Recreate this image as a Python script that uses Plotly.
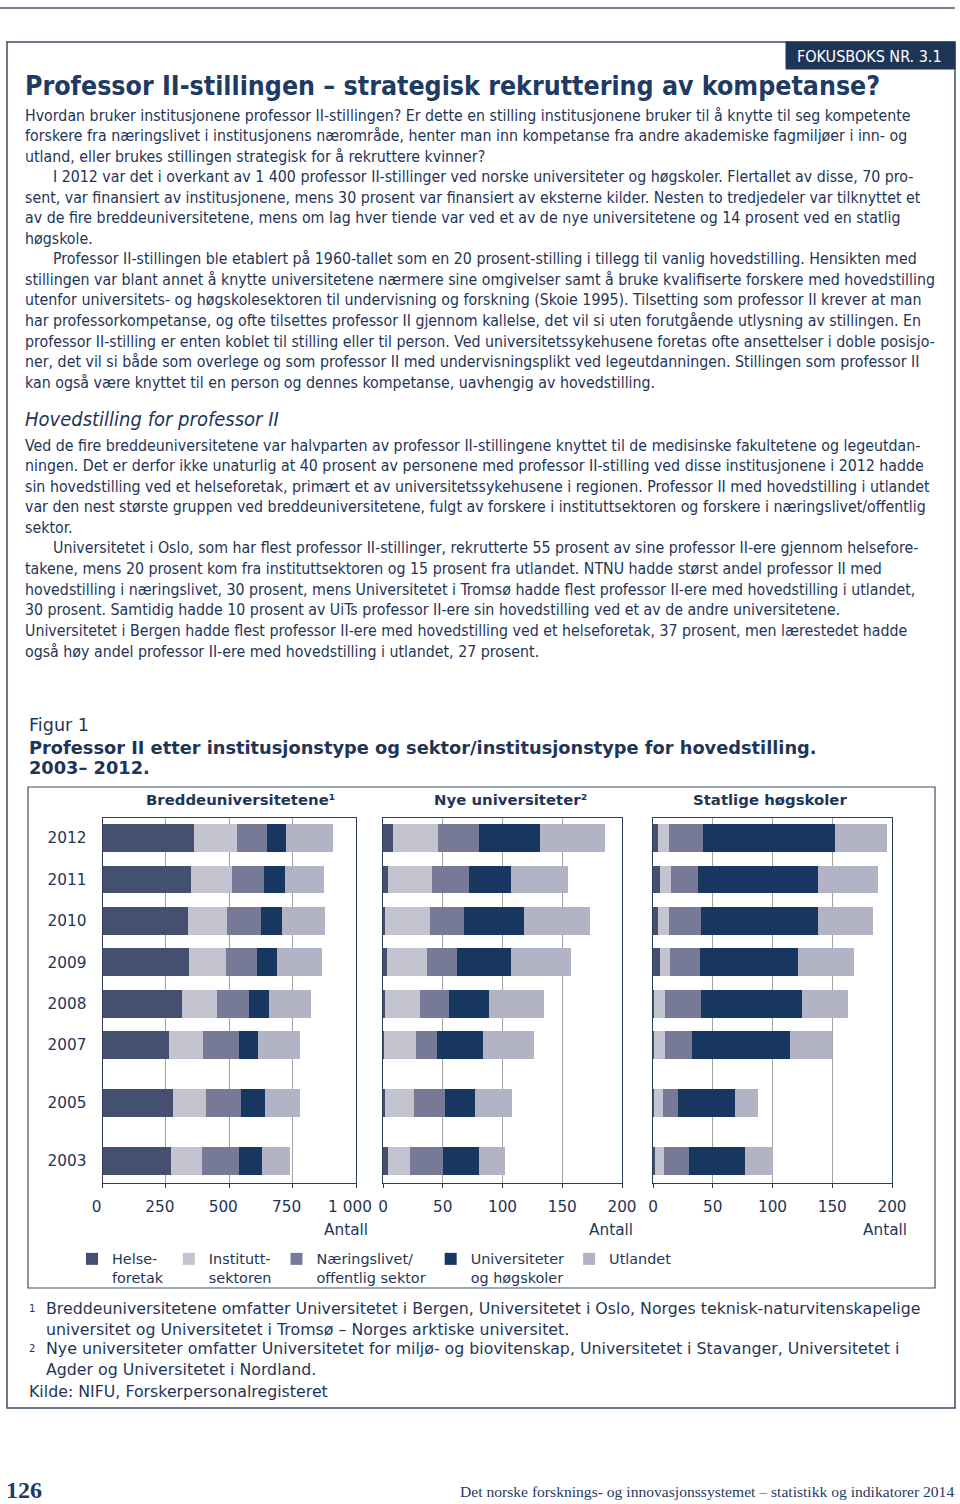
import plotly.graph_objects as go

W, H = 960, 1504

# ---------------- DATA ----------------
years = ["2012", "2011", "2010", "2009", "2008", "2007", "2005", "2003"]
sectors = ["Helse-<br>foretak", "Institutt-<br>sektoren", "Næringslivet/<br>offentlig sektor",
           "Universiteter<br>og høgskoler", "Utlandet"]

bredde_helse = [359, 347, 334, 338, 310, 262, 276, 270]
bredde_inst = [169, 162, 155, 148, 140, 132, 131, 119]
bredde_naer = [117, 126, 135, 120, 124, 144, 139, 147]
bredde_univ = [75, 82, 84, 82, 81, 75, 94, 90]
bredde_utl = [189, 153, 166, 174, 166, 165, 136, 111]

nye_helse = [8, 4, 2, 3, 2, 1, 2, 4]
nye_inst = [38, 37, 37, 34, 29, 27, 24, 19]
nye_naer = [34, 31, 29, 25, 24, 17, 26, 27]
nye_univ = [51, 35, 50, 45, 34, 39, 25, 30]
nye_utl = [55, 48, 55, 50, 46, 42, 31, 22]

hs_helse = [4, 6, 4, 6, 1, 1, 1, 2]
hs_inst = [9, 9, 9, 8, 9, 9, 7, 7]
hs_naer = [29, 23, 27, 25, 30, 23, 13, 21]
hs_univ = [110, 100, 98, 82, 85, 82, 48, 47]
hs_utl = [44, 50, 46, 47, 38, 35, 19, 23]

panel_titles = ["Breddeuniversitetene¹", "Nye universiteter²", "Statlige høgskoler"]
x1_ticks = [0, 250, 500, 750, 1000]
x1_labels = ["0", "250", "500", "750", "1 000"]
x23_ticks = [0, 50, 100, 150, 200]
x23_labels = ["0", "50", "100", "150", "200"]

# ---------------- STYLE ----------------
colors = ["#454f6f", "#c3c4d0", "#777a96", "#173660", "#b2b4c5"]
TEXT = "#1f3558"
FRAME = "#2d3f58"
GRID = "#a3a3a3"
BODY = "DejaVu Sans Condensed, DejaVu Sans, sans-serif"
CHART = "DejaVu Sans, Verdana, sans-serif"
SERIF = "Liberation Serif, DejaVu Serif, serif"
BODY_SIZE = 15.8
CHART_SIZE = 15.3

# year row positions (bigger gap where years are skipped)
pos = []
p = 0.0
for i, y in enumerate(years):
    if i > 0:
        p += 1.0 if int(years[i - 1]) - int(y) == 1 else 1.4
    pos.append(p)

fig = go.Figure()

panels = [
    ("x", "y", [bredde_helse, bredde_inst, bredde_naer, bredde_univ, bredde_utl], True),
    ("x2", "y2", [nye_helse, nye_inst, nye_naer, nye_univ, nye_utl], False),
    ("x3", "y3", [hs_helse, hs_inst, hs_naer, hs_univ, hs_utl], False),
]
for xa, ya, series, show in panels:
    for name, vals, col in zip(sectors, series, colors):
        fig.add_trace(go.Bar(
            x=vals, y=pos, orientation="h", name=name, marker=dict(color=col, line=dict(width=0)),
            width=0.67, xaxis=xa, yaxis=ya, showlegend=show, legendgroup=name,
        ))

def px_x(v):
    return v / W

def px_y(v):
    return 1 - v / H

ydom = [px_y(1183), px_y(818)]
yrange = [8.33, -0.483]

common_x = dict(showgrid=True, gridcolor=GRID, gridwidth=1, showline=True, linecolor=FRAME,
                linewidth=1, mirror=True, ticks="outside", ticklen=4, tickcolor=FRAME,
                zeroline=False, automargin=False, ticklabelstandoff=6,
                tickfont=dict(size=CHART_SIZE, color=TEXT, family=CHART))
common_y = dict(range=yrange, showgrid=False, showline=True, linecolor=FRAME, linewidth=1,
                mirror=True, ticks="", zeroline=False, automargin=False, domain=ydom,
                tickvals=pos, ticktext=years,
                tickfont=dict(size=CHART_SIZE, color=TEXT, family=CHART))

fig.update_layout(
    width=W, height=H, margin=dict(l=0, r=0, t=0, b=0),
    paper_bgcolor="white", plot_bgcolor="white", barmode="stack", bargap=0,
    xaxis=dict(domain=[px_x(102.5), px_x(356)], range=[0, 1000], tickvals=x1_ticks,
               ticktext=x1_labels, anchor="y", ticklabelshift=-6, **common_x),
    xaxis2=dict(domain=[px_x(383), px_x(622)], range=[0, 200], tickvals=x23_ticks,
                ticktext=x23_labels, anchor="y2", **common_x),
    xaxis3=dict(domain=[px_x(653), px_x(892)], range=[0, 200], tickvals=x23_ticks,
                ticktext=x23_labels, anchor="y3", **common_x),
    yaxis=dict(anchor="x", showticklabels=True, ticklabelstandoff=12, **common_y),
    yaxis2=dict(anchor="x2", showticklabels=False, **common_y),
    yaxis3=dict(anchor="x3", showticklabels=False, **common_y),
    legend=dict(orientation="h", x=px_x(72), y=px_y(1243), xanchor="left", yanchor="top",
                font=dict(size=14.4, color=TEXT, family=CHART), valign="top",
                bgcolor="rgba(0,0,0,0)", traceorder="normal"),
    showlegend=True,
)

anns = []

def txt(x, y, s, size=BODY_SIZE, color=TEXT, weight="normal", style="normal", family=BODY,
        xanchor="left"):
    anns.append(dict(x=px_x(x), y=px_y(y), xref="paper", yref="paper", text=s,
                     showarrow=False, xanchor=xanchor, yanchor="middle", align="left",
                     borderpad=0,
                     font=dict(size=size, color=color, family=family, weight=weight,
                               style=style)))

# ---------------- PAGE FRAME ----------------
shapes = []

def line(x0, y0, x1, y1, color=FRAME, width=1.5):
    shapes.append(dict(type="line", xref="paper", yref="paper", x0=px_x(x0), y0=px_y(y0),
                       x1=px_x(x1), y1=px_y(y1), line=dict(color=color, width=width)))

def rect(x0, y0, x1, y1, line_color=FRAME, fill="rgba(0,0,0,0)", width=1.5):
    shapes.append(dict(type="rect", xref="paper", yref="paper", x0=px_x(x0), y0=px_y(y0),
                       x1=px_x(x1), y1=px_y(y1), fillcolor=fill,
                       line=dict(color=line_color, width=width), layer="below"))

line(0, 8, 955, 8, color="#4a5a70", width=1.5)
rect(7, 42, 955, 1408, line_color="#3d4e66", width=1.5)
rect(786, 42, 955, 69, line_color="#1f3558", fill="#1f3558", width=1)
rect(28, 787, 935, 1288, line_color="#3d4e66", width=1.2)

txt(869, 56, "FOKUSBOKS NR. 3.1", size=16, color="white", xanchor="center")

# ---------------- TITLE & BODY TEXT ----------------
txt(24, 86, "Professor II-stillingen – strategisk rekruttering av kompetanse?", size=26.5,
    weight="bold", color="#1f3a63")

body_lines = [
    (24, "Hvordan bruker institusjonene professor II-stillingen? Er dette en stilling institusjonene bruker til å knytte til seg kompetente"),
    (24, "forskere fra næringslivet i institusjonens nærområde, henter man inn kompetanse fra andre akademiske fagmiljøer i inn- og"),
    (24, "utland, eller brukes stillingen strategisk for å rekruttere kvinner?"),
    (52, "I 2012 var det i overkant av 1 400 professor II-stillinger ved norske universiteter og høgskoler. Flertallet av disse, 70 pro-"),
    (24, "sent, var finansiert av institusjonene, mens 30 prosent var finansiert av eksterne kilder. Nesten to tredjedeler var tilknyttet et"),
    (24, "av de fire breddeuniversitetene, mens om lag hver tiende var ved et av de nye universitetene og 14 prosent ved en statlig"),
    (24, "høgskole."),
    (52, "Professor II-stillingen ble etablert på 1960-tallet som en 20 prosent-stilling i tillegg til vanlig hovedstilling. Hensikten med"),
    (24, "stillingen var blant annet å knytte universitetene nærmere sine omgivelser samt å bruke kvalifiserte forskere med hovedstilling"),
    (24, "utenfor universitets- og høgskolesektoren til undervisning og forskning (Skoie 1995). Tilsetting som professor II krever at man"),
    (24, "har professorkompetanse, og ofte tilsettes professor II gjennom kallelse, det vil si uten forutgående utlysning av stillingen. En"),
    (24, "professor II-stilling er enten koblet til stilling eller til person. Ved universitetssykehusene foretas ofte ansettelser i doble posisjo-"),
    (24, "ner, det vil si både som overlege og som professor II med undervisningsplikt ved legeutdanningen. Stillingen som professor II"),
    (24, "kan også være knyttet til en person og dennes kompetanse, uavhengig av hovedstilling."),
]
for i, (x, s) in enumerate(body_lines):
    txt(x, 115 + i * 20.55, s)

txt(24, 419, "Hovedstilling for professor II", size=20, style="italic")

body2 = [
    (24, "Ved de fire breddeuniversitetene var halvparten av professor II-stillingene knyttet til de medisinske fakultetene og legeutdan-"),
    (24, "ningen. Det er derfor ikke unaturlig at 40 prosent av personene med professor II-stilling ved disse institusjonene i 2012 hadde"),
    (24, "sin hovedstilling ved et helseforetak, primært et av universitetssykehusene i regionen. Professor II med hovedstilling i utlandet"),
    (24, "var den nest største gruppen ved breddeuniversitetene, fulgt av forskere i instituttsektoren og forskere i næringslivet/offentlig"),
    (24, "sektor."),
    (52, "Universitetet i Oslo, som har flest professor II-stillinger, rekrutterte 55 prosent av sine professor II-ere gjennom helsefore-"),
    (24, "takene, mens 20 prosent kom fra instituttsektoren og 15 prosent fra utlandet. NTNU hadde størst andel professor II med"),
    (24, "hovedstilling i næringslivet, 30 prosent, mens Universitetet i Tromsø hadde flest professor II-ere med hovedstilling i utlandet,"),
    (24, "30 prosent. Samtidig hadde 10 prosent av UiTs professor II-ere sin hovedstilling ved et av de andre universitetene."),
    (24, "Universitetet i Bergen hadde flest professor II-ere med hovedstilling ved et helseforetak, 37 prosent, men lærestedet hadde"),
    (24, "også høy andel professor II-ere med hovedstilling i utlandet, 27 prosent."),
]
for i, (x, s) in enumerate(body2):
    txt(x, 445 + i * 20.6, s)

# ---------------- FIGURE TEXT ----------------
txt(28, 725, "Figur 1", size=17.6, family=CHART)
txt(28, 747, "Professor II etter institusjonstype og sektor/institusjonstype for hovedstilling.",
    size=17.8, weight="bold", family=CHART)
txt(28, 768, "2003– 2012.", size=17.8, weight="bold", family=CHART)

for cx, t in zip([240, 510, 770], panel_titles):
    txt(cx, 800, t, size=14.9, weight="bold", family=CHART, xanchor="center")

for cx in [346, 611, 885]:
    txt(cx, 1230, "Antall", size=CHART_SIZE, family=CHART, xanchor="center")

# ---------------- FOOTNOTES ----------------
FN = 15.8
txt(28, 1308, "1", size=10, family=CHART)
txt(45, 1319, "Breddeuniversitetene omfatter Universitetet i Bergen, Universitetet i Oslo, Norges teknisk-naturvitenskapelige"
    "<br>universitet og Universitetet i Tromsø – Norges arktiske universitet.", size=FN, family=CHART)
txt(28, 1348, "2", size=10, family=CHART)
txt(45, 1359, "Nye universiteter omfatter Universitetet for miljø- og biovitenskap, Universitetet i Stavanger, Universitetet i"
    "<br>Agder og Universitetet i Nordland.", size=FN, family=CHART)
txt(28, 1391, "Kilde: NIFU, Forskerpersonalregisteret", size=FN, family=CHART)

# ---------------- PAGE FOOTER ----------------
txt(5, 1490, "126", size=24, color="#1f3a63", family=SERIF, weight="bold")
txt(955, 1491, "Det norske forsknings- og innovasjonssystemet – statistikk og indikatorer 2014",
    size=15.6, color="#1f3a63", family=SERIF, xanchor="right")

fig.update_layout(annotations=anns, shapes=shapes)
fig.write_html("out.html", config={"displayModeBar": False},
               post_script="document.body.style.margin='0px';")
